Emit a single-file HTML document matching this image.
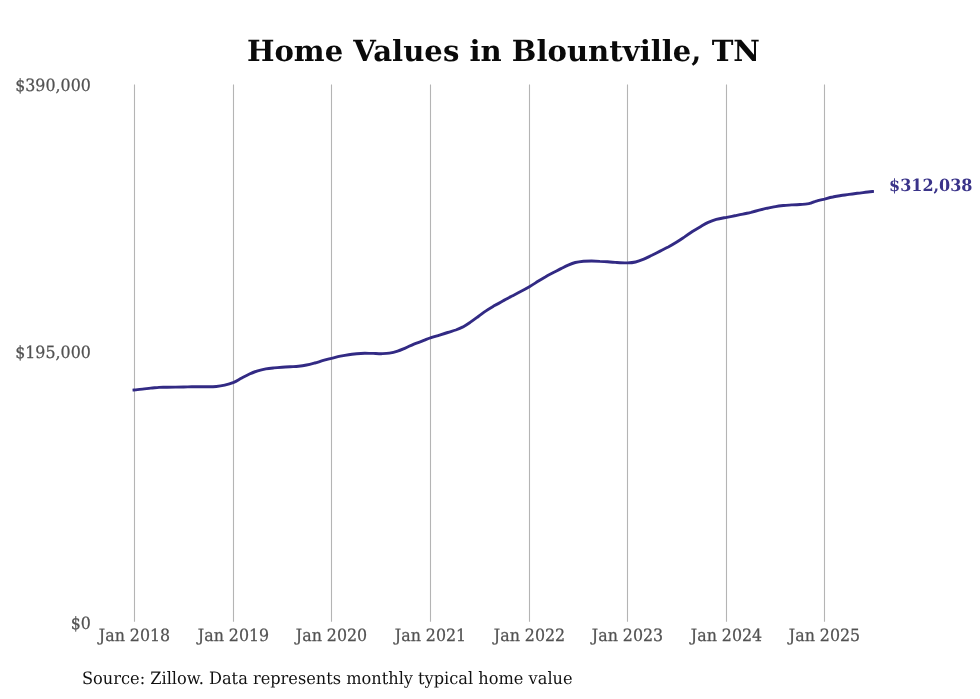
<!DOCTYPE html>
<html>
<head>
<meta charset="utf-8">
<title>Home Values in Blountville, TN</title>
<style>
html,body{margin:0;padding:0;background:#fff;}
svg{display:block;font-family:"DejaVu Serif","Liberation Serif",serif;text-rendering:geometricPrecision;}
</style>
</head>
<body>
<svg width="980" height="699" viewBox="0 0 980 699">
<rect width="980" height="699" fill="#fff"/>
<text transform="translate(503.4,60.6) scale(1,1)" font-size="29.14" text-anchor="middle" fill="#0a0a0a" font-weight="bold">Home Values in Blountville, TN</text>
<g stroke="#b4b4b4" stroke-width="1.1">
<line x1="134.5" y1="84.4" x2="134.5" y2="621.7"/>
<line x1="233.5" y1="84.4" x2="233.5" y2="621.7"/>
<line x1="331.5" y1="84.4" x2="331.5" y2="621.7"/>
<line x1="430.5" y1="84.4" x2="430.5" y2="621.7"/>
<line x1="529.5" y1="84.4" x2="529.5" y2="621.7"/>
<line x1="627.5" y1="84.4" x2="627.5" y2="621.7"/>
<line x1="726.5" y1="84.4" x2="726.5" y2="621.7"/>
<line x1="824.5" y1="84.4" x2="824.5" y2="621.7"/>
</g>
<text transform="translate(90.8,90.7) scale(1,1.07)" font-size="15.85" text-anchor="end" fill="#525252" stroke="#525252" stroke-width="0.25">$390,000</text>
<text transform="translate(90.8,358.2) scale(1,1.07)" font-size="15.85" text-anchor="end" fill="#525252" stroke="#525252" stroke-width="0.25">$195,000</text>
<text transform="translate(90.8,628.5) scale(1,1.07)" font-size="15.85" text-anchor="end" fill="#525252" stroke="#525252" stroke-width="0.25">$0</text>
<text transform="translate(134.5,640.5) scale(1,1.07)" font-size="15.85" text-anchor="middle" fill="#525252" stroke="#525252" stroke-width="0.25">Jan 2018</text>
<text transform="translate(233.5,640.5) scale(1,1.07)" font-size="15.85" text-anchor="middle" fill="#525252" stroke="#525252" stroke-width="0.25">Jan 2019</text>
<text transform="translate(331.5,640.5) scale(1,1.07)" font-size="15.85" text-anchor="middle" fill="#525252" stroke="#525252" stroke-width="0.25">Jan 2020</text>
<text transform="translate(430.5,640.5) scale(1,1.07)" font-size="15.85" text-anchor="middle" fill="#525252" stroke="#525252" stroke-width="0.25">Jan 2021</text>
<text transform="translate(529.5,640.5) scale(1,1.07)" font-size="15.85" text-anchor="middle" fill="#525252" stroke="#525252" stroke-width="0.25">Jan 2022</text>
<text transform="translate(627.5,640.5) scale(1,1.07)" font-size="15.85" text-anchor="middle" fill="#525252" stroke="#525252" stroke-width="0.25">Jan 2023</text>
<text transform="translate(726.5,640.5) scale(1,1.07)" font-size="15.85" text-anchor="middle" fill="#525252" stroke="#525252" stroke-width="0.25">Jan 2024</text>
<text transform="translate(824.5,640.5) scale(1,1.07)" font-size="15.85" text-anchor="middle" fill="#525252" stroke="#525252" stroke-width="0.25">Jan 2025</text>
<path d="M134.0,390.0 C135.4,389.9 139.7,389.4 142.5,389.1 C145.3,388.8 147.9,388.4 150.7,388.1 C153.4,387.9 156.2,387.6 159.0,387.4 C161.8,387.3 164.5,387.3 167.2,387.2 C169.9,387.2 172.7,387.2 175.4,387.1 C178.1,387.1 180.9,387.1 183.6,387.0 C186.3,386.9 189.1,386.9 191.8,386.8 C194.5,386.8 197.3,386.8 200.0,386.7 C202.7,386.7 205.5,386.8 208.2,386.8 C210.9,386.8 213.7,386.8 216.4,386.5 C219.2,386.3 221.8,385.9 224.7,385.2 C227.6,384.5 230.9,383.5 233.7,382.4 C236.5,381.2 238.7,379.7 241.3,378.3 C243.9,376.9 246.8,375.3 249.5,374.0 C252.2,372.8 255.0,371.7 257.7,370.8 C260.4,370.0 263.1,369.4 265.8,368.9 C268.5,368.5 271.3,368.2 274.0,367.9 C276.7,367.6 279.4,367.4 282.1,367.2 C284.8,367.0 287.6,366.9 290.3,366.8 C293.0,366.6 295.8,366.5 298.5,366.2 C301.2,366.0 303.9,365.6 306.6,365.0 C309.3,364.5 312.2,363.7 314.8,363.0 C317.4,362.3 319.7,361.5 322.5,360.7 C325.3,359.9 328.4,359.1 331.4,358.3 C334.4,357.6 337.5,356.8 340.4,356.2 C343.3,355.6 345.9,355.1 348.6,354.7 C351.3,354.3 354.0,354.0 356.7,353.7 C359.4,353.5 362.2,353.3 364.9,353.3 C367.6,353.3 370.4,353.4 373.1,353.4 C375.8,353.5 378.5,353.7 381.2,353.7 C383.9,353.6 386.7,353.6 389.4,353.1 C392.1,352.7 394.9,352.0 397.6,351.1 C400.3,350.3 403.0,349.0 405.7,347.9 C408.4,346.7 411.0,345.3 413.9,344.1 C416.8,342.9 420.5,341.8 423.2,340.7 C425.9,339.7 427.6,338.8 430.3,337.9 C433.0,336.9 436.6,336.0 439.5,335.1 C442.4,334.2 445.0,333.4 447.7,332.5 C450.4,331.6 453.2,330.9 455.8,330.0 C458.4,329.0 460.6,328.1 463.0,326.9 C465.4,325.6 467.6,324.1 470.1,322.4 C472.7,320.7 475.6,318.5 478.3,316.5 C481.0,314.6 483.7,312.4 486.4,310.6 C489.1,308.8 491.9,307.2 494.6,305.6 C497.3,304.0 500.1,302.7 502.8,301.1 C505.5,299.6 508.0,298.1 510.9,296.6 C513.8,295.0 517.1,293.4 520.2,291.7 C523.3,290.1 526.5,288.4 529.4,286.7 C532.3,285.0 534.9,283.3 537.6,281.6 C540.3,279.9 543.0,278.2 545.7,276.7 C548.4,275.1 551.4,273.7 553.9,272.3 C556.4,271.0 558.6,269.8 561.0,268.6 C563.4,267.4 565.8,266.1 568.2,265.1 C570.6,264.1 572.8,263.2 575.3,262.5 C577.8,261.9 580.8,261.5 583.5,261.2 C586.2,261.0 588.9,261.0 591.6,261.0 C594.3,261.0 597.1,261.2 599.8,261.4 C602.4,261.5 604.9,261.6 607.5,261.8 C610.1,262.0 611.8,262.3 615.2,262.4 C618.6,262.6 624.2,263.0 627.6,262.9 C631.0,262.8 632.9,262.6 635.6,262.0 C638.3,261.4 641.1,260.3 643.8,259.2 C646.5,258.1 649.2,256.6 651.9,255.3 C654.6,253.9 657.4,252.5 660.1,251.1 C662.8,249.7 665.6,248.4 668.3,247.0 C671.0,245.5 673.7,244.0 676.4,242.3 C679.1,240.6 681.9,238.7 684.6,236.9 C687.3,235.0 690.1,233.1 692.8,231.3 C695.5,229.6 698.3,227.9 700.9,226.4 C703.5,224.9 705.6,223.6 708.2,222.4 C710.8,221.3 713.2,220.3 716.3,219.4 C719.4,218.6 723.6,217.9 726.7,217.3 C729.8,216.7 732.0,216.3 734.7,215.8 C737.4,215.3 740.2,214.8 742.9,214.2 C745.6,213.6 748.3,212.9 751.0,212.3 C753.7,211.6 756.5,210.9 759.2,210.2 C761.9,209.5 764.6,208.8 767.3,208.2 C770.0,207.7 772.8,207.1 775.5,206.6 C778.2,206.1 781.0,205.8 783.7,205.5 C786.4,205.2 789.1,205.1 791.8,204.9 C794.5,204.8 797.4,204.7 800.0,204.5 C802.6,204.3 805.3,204.2 807.2,203.9 C809.1,203.7 809.9,203.4 811.3,203.0 C812.7,202.5 813.2,202.0 815.4,201.4 C817.6,200.7 821.7,199.8 824.6,199.1 C827.5,198.3 830.1,197.5 832.8,197.0 C835.5,196.4 838.2,196.0 840.9,195.5 C843.6,195.1 846.4,194.8 849.1,194.4 C851.8,194.1 854.5,193.7 857.2,193.3 C859.9,192.9 862.9,192.6 865.4,192.3 C867.9,192.0 871.3,191.6 872.5,191.5" fill="none" stroke="#322a84" stroke-width="2.9" stroke-linecap="square" stroke-linejoin="round"/>
<text transform="translate(889,190.5) scale(1,1.05)" font-size="16" text-anchor="start" fill="#3a3389" font-weight="bold">$312,038</text>
<text transform="translate(82,683.6) scale(1,1.05)" font-size="16.2" text-anchor="start" fill="#111">Source: Zillow. Data represents monthly typical home value</text>
</svg>
</body>
</html>
